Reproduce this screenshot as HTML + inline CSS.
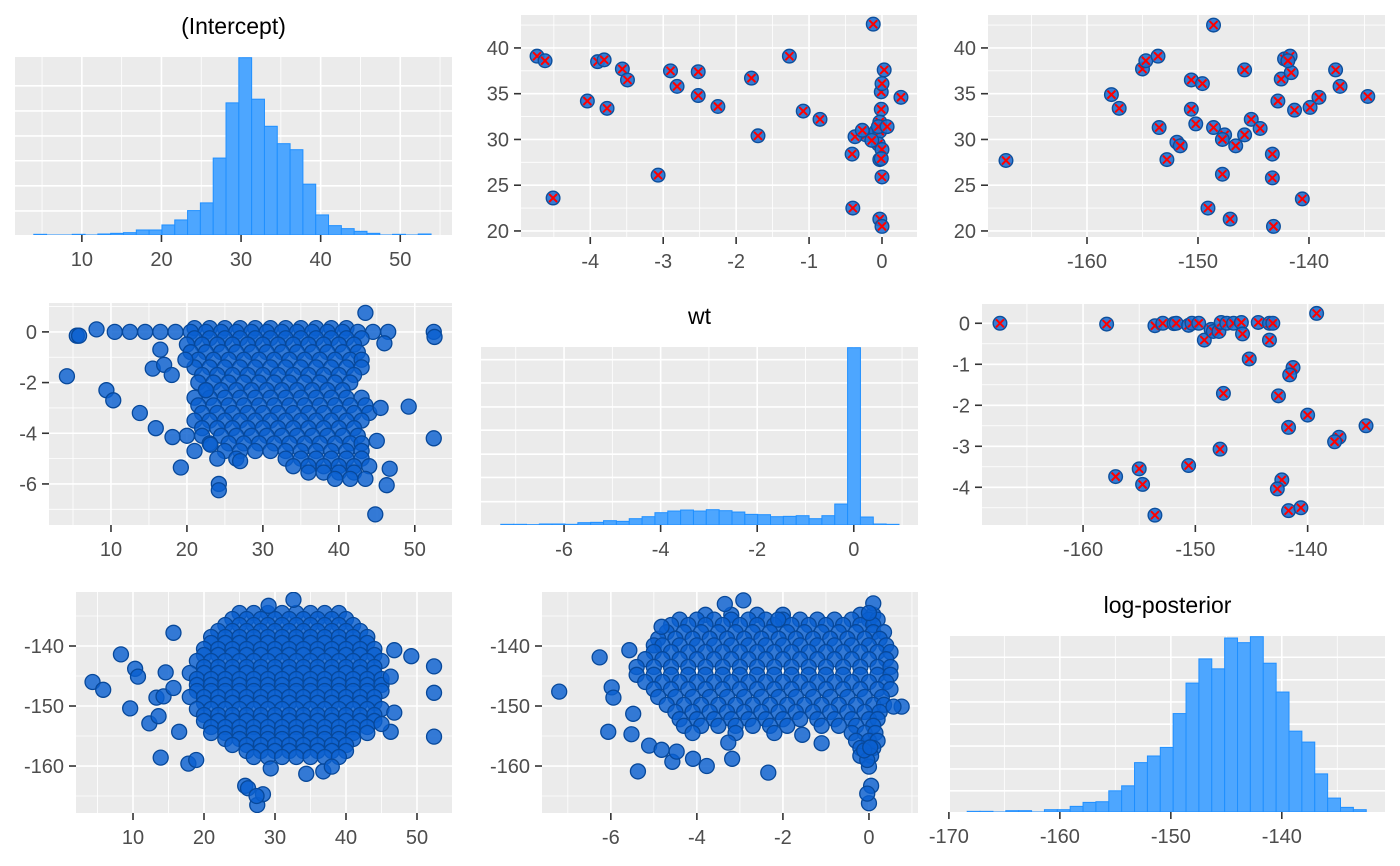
<!DOCTYPE html>
<html><head><meta charset="utf-8"><style>
html,body{margin:0;padding:0;background:#fff;}
svg{display:block;font-family:"Liberation Sans",sans-serif;}
</style></head>
<body>
<svg id="chart" width="1400" height="866" viewBox="0 0 1400 866" xmlns="http://www.w3.org/2000/svg"></svg>
<script>
// ---------- DATA ----------
const interceptCounts = [2,0,0,2,0,3,5,7,15,15,30,45,73,96,230,395,530,406,325,273,255,152,60,28,19,11,5,0,2,0,3];
const interceptBinStart = 3.96, interceptBinWidth = 1.61;
const wtCounts = [2,2,1,3,3,2,7,8,13,11,19,25,37,42,45,42,46,43,39,32,31,25,26,28,19,28,63,533,24,3,2];
const wtBinStart = -7.31, wtBinWidth = 0.266;
const lpCounts = [2,2,0,4,4,0,7,7,17,29,31,64,79,149,169,195,297,389,462,432,525,511,529,449,362,244,211,115,42,14,7];
const lpBinStart = -168.35, lpBinWidth = 1.16;

const interceptXTicks = [10,20,30,40,50];
const wtXTicks = [-6,-4,-2,0];
const wtXTicksTop = [-4,-3,-2,-1,0];
const lpXTicks = [-160,-150,-140];
const lpXTicksHist = [-170,-160,-150,-140];
const interceptYTicks = [20,25,30,35,40];
const wtYTicks = [0,-2,-4,-6];
const wtYTicks6 = [0,-1,-2,-3,-4];
const lpYTicks = [-140,-150,-160];

const p2Draws = [[-4.73,39.1],[-4.62,38.6],[-4.04,34.2],[-3.90,38.5],[-3.81,38.7],[-3.77,33.4],[-3.56,37.7],[-3.49,36.5],[-4.51,23.6],[-3.07,26.1],[-2.90,37.5],[-2.81,35.8],[-2.52,37.4],[-2.52,34.8],[-2.25,33.6],[-1.79,36.7],[-1.70,30.4],[-1.27,39.1],[-1.08,33.1],[-0.85,32.2],[-0.12,42.6],[-0.22,30.5],[-0.37,30.3],[-0.08,30.9],[-0.01,33.3],[-0.01,35.2],[0,36.1],[0.03,37.6],[0.26,34.6],[-0.03,31.9],[-0.03,30.9],[-0.05,29.5],[0,28.9],[-0.03,27.8],[0,25.9],[-0.01,27.9],[-0.03,21.3],[0,20.5],[-0.40,22.5],[-0.41,28.4],[-0.14,29.9],[-0.27,31.0],[-0.05,31.4],[0.07,31.4]];
const p3Draws = [[-167.3,27.7],[-157.8,34.9],[-157.1,33.4],[-155.0,37.7],[-154.7,38.6],[-153.6,39.1],[-153.5,31.3],[-152.8,27.8],[-151.9,29.7],[-151.6,29.3],[-150.6,36.5],[-149.6,36.1],[-150.6,33.3],[-150.2,31.7],[-148.6,42.5],[-149.1,22.5],[-148.6,31.3],[-147.8,26.2],[-147.6,30.5],[-147.8,30.0],[-146.6,29.3],[-147.1,21.3],[-145.8,37.6],[-145.8,30.5],[-145.2,32.2],[-144.4,31.2],[-143.3,28.4],[-143.3,25.8],[-143.2,20.5],[-142.8,34.2],[-142.5,36.6],[-142.2,38.8],[-141.7,39.1],[-141.6,37.3],[-141.9,38.6],[-141.3,33.2],[-140.6,23.5],[-139.9,33.5],[-139.1,34.6],[-137.6,37.6],[-137.2,35.8],[-134.7,34.7]];
const p6Draws = [[-167.4,0],[-157.9,-0.02],[-153.6,-0.06],[-152.9,0],[-151.9,-0.01],[-151.7,0],[-150.6,-0.05],[-150.3,0],[-149.7,0],[-149.2,-0.41],[-148.6,-0.15],[-148.4,-0.20],[-147.9,-0.20],[-147.7,0.02],[-147.2,0],[-146.6,0],[-145.9,0.02],[-145.8,-0.26],[-144.4,0.02],[-143.4,0],[-143.1,0],[-143.4,-0.41],[-145.2,-0.87],[-141.3,-1.08],[-141.6,-1.26],[-147.5,-1.71],[-142.6,-1.77],[-139.2,0.24],[-140.0,-2.24],[-141.7,-2.54],[-134.8,-2.50],[-137.2,-2.78],[-137.6,-2.89],[-147.8,-3.07],[-150.6,-3.47],[-157.1,-3.74],[-155.0,-3.55],[-154.7,-3.93],[-153.6,-4.68],[-142.3,-3.82],[-142.7,-4.04],[-141.7,-4.57],[-140.6,-4.50]];

const p4Outliers = [[4.2,-1.75],[9.4,-2.3],[10.3,-2.7],[13.8,-3.2],[15.9,-3.8],[18.1,-4.15],[19.2,-5.35],[24.2,-6.0],[24.2,-6.25],[44.8,-7.2],[49.2,-2.95],[52.5,-4.2],[52.5,0],[52.6,-0.2],[46.7,-5.4],[46.3,-6.05],[45,-4.3],[43.5,0.75],[8.1,0.1],[5.5,-0.15],[5.8,-0.15],[16.5,-0.7],[19.8,-1.1],[15.5,-1.45],[17,-1.3],[18,-1.7],[22.5,-2.3],[26.5,-5.0],[27,-5.1],[23.1,-4.45],[45.5,-3.0],[46,-0.45]];
const p4Rows = [[0.15,[21,23,25,27,29,31,33,35,37,39,41]],[0,[10.5,12.5,14.5,16.5,18.5,20.5,22.5,24.5,26.5,28.5,30.5,32.5,34.5,36.5,38.5,40.5,42.5,44.5,46.5]],[-0.25,[21,23,25,27,29,31,33,35,37,39,41,43]],[-0.5,[20,22,24,26,28,30,32,34,36,38,40,42]],[-0.8,[20.5,22.5,24.5,26.5,28.5,30.5,32.5,34.5,36.5,38.5,40.5,42.5]],[-1.1,[21.5,23.5,25.5,27.5,29.5,31.5,33.5,35.5,37.5,39.5,41.5,43]],[-1.4,[21,23,25,27,29,31,33,35,37,39,41,43]],[-1.7,[22,24,26,28,30,32,34,36,38,40,42]],[-2.0,[21.5,23.5,25.5,27.5,29.5,31.5,33.5,35.5,37.5,39.5,41.5]],[-2.3,[22.5,24.5,26.5,28.5,30.5,32.5,34.5,36.5,38.5,40.5]],[-2.6,[21,23,25,27,29,31,33,35,37,39,41,43]],[-2.9,[21.5,23.5,25.5,27.5,29.5,31.5,33.5,35.5,37.5,39.5,41.5,43.5]],[-3.2,[22,24,26,28,30,32,34,36,38,40,42,44]],[-3.5,[21,23,25,27,29,31,33,35,37,39,41,43]],[-3.8,[22,24,26,28,30,32,34,36,38,40,42]],[-4.1,[20,22,24.5,26.5,28.5,30.5,32.5,34.5,36.5,38.5,40.5,42.5]],[-4.4,[23,25.5,27.5,29.5,31.5,33.5,35.5,37.5,39.5,41.5,43]],[-4.7,[21,25,27,29,31,33,35,37,39,41,43]],[-5.0,[24,33,35,37,39,41,43]],[-5.3,[34,36,38,40,42,44]],[-5.55,[36,38,40,42]],[-5.8,[39.5,41.5,43.5]]];
const p7Outliers = [[4.3,-146],[5.8,-147.3],[8.3,-141.4],[10.3,-143.8],[10.7,-145.1],[9.6,-150.4],[12.3,-152.9],[13.6,-151.7],[13.3,-148.6],[14.3,-148.4],[13.9,-158.6],[17.8,-159.6],[18.9,-159.0],[15.7,-137.8],[14.6,-144.4],[15.7,-147],[16.5,-154.3],[49.2,-141.7],[52.4,-143.4],[52.4,-147.8],[52.4,-155.1],[46.8,-151.1],[46.3,-154.3],[46.8,-140.7],[46.3,-145.1],[45,-153],[25.8,-163.3],[26.2,-163.7],[27.5,-166.5],[28.3,-164.7],[27.4,-165],[34.4,-161.3],[36.8,-160.9],[38.0,-160.1],[29.4,-160.4],[32.6,-132.3],[29.1,-133.3]];
const p7Rows = [[-134.5,[25,27,29,31,33,35,37,39]],[-135.5,[24,26,28,30,32,34,36,38,40]],[-136.5,[23,25,27,29,31,33,35,37,39,41]],[-137.5,[22,24,26,28,30,32,34,36,38,40,42]],[-138.5,[21,23,25,27,29,31,33,35,37,39,41,43]],[-139.5,[21,23,25,27,29,31,33,35,37,39,41,43]],[-140.5,[20,22,24,26,28,30,32,34,36,38,40,42,44]],[-141.5,[20,22,24,26,28,30,32,34,36,38,40,42,44]],[-142.5,[19,21,23,25,27,29,31,33,35,37,39,41,43,45]],[-143.5,[20,22,24,26,28,30,32,34,36,38,40,42,44]],[-144.5,[18,20,22,24,26,28,30,32,34,36,38,40,42,44]],[-145.5,[19,21,23,25,27,29,31,33,35,37,39,41,43,45]],[-146.5,[19,21,23,25,27,29,31,33,35,37,39,41,43,45]],[-147.5,[19,21,23,25,27,29,31,33,35,37,39,41,43,45]],[-148.5,[18,20,22,24,26,28,30,32,34,36,38,40,42,44]],[-149.5,[20,22,24,26,28,30,32,34,36,38,40,42,44]],[-150.5,[19,21,23,25,27,29,31,33,35,37,39,41,43,45]],[-151.5,[20,22,24,26,28,30,32,34,36,38,40,42,44]],[-152.5,[20,22,24,26,28,30,32,34,36,38,40,42,44]],[-153.5,[21,23,25,27,29,31,33,35,37,39,41,43]],[-154.5,[21,23,25,27,29,31,33,35,37,39,41,43]],[-155.5,[23,25,27,29,31,33,35,37,39,41]],[-156.5,[24,26,28,30,32,34,36,38,40]],[-157.5,[26,28,30,32,34,36,38,40]],[-158.5,[27,29,31,33,35,37,39]]];
const p8Outliers = [[-7.2,-147.6],[-6.26,-141.9],[-5.98,-146.9],[-5.94,-148.6],[-6.06,-154.3],[-5.37,-160.9],[-5.52,-154.7],[-5.48,-151.3],[-5.11,-156.6],[-4.82,-157.3],[-4.57,-159.3],[-4.47,-157.6],[-4.09,-158.8],[-3.77,-160],[-3.18,-158.8],[-3.27,-156.1],[-2.34,-161.1],[-1.55,-154.8],[-1.10,-156.2],[0.76,-150.1],[0.57,-150.1],[-3.35,-133],[-2.92,-132.4],[-2.11,-135.6],[-4.82,-136.8],[-5.57,-140.7],[0,-166.2],[0.05,-163.3],[-0.04,-164.6],[0,-160.1],[-0.04,-159],[-0.11,-157.4],[0.03,-156.9],[0.1,-132.9],[0,-134.5]];
const p8Rows = [[-134.8,[-3.8,-3.2,-2.6,-2.0,-0.2,0.1]],[-135.6,[-4.4,-4.0,-3.6,-3.2,-2.8,-2.4,-2.0,-1.6,-1.2,-0.8,-0.4,0,0.2]],[-136.5,[-4.6,-4.2,-3.8,-3.4,-3.0,-2.6,-2.2,-1.8,-1.4,-1.0,-0.6,-0.2,0.1]],[-137.7,[-4.7,-4.3,-3.9,-3.5,-3.1,-2.7,-2.3,-1.9,-1.5,-1.1,-0.7,-0.3,0.1,0.35]],[-138.8,[-4.9,-4.5,-4.1,-3.7,-3.3,-2.9,-2.5,-2.1,-1.7,-1.3,-0.9,-0.5,-0.1,0.25]],[-139.9,[-5.0,-4.8,-4.4,-4.0,-3.6,-3.2,-2.8,-2.4,-2.0,-1.6,-1.2,-0.8,-0.4,0,0.4]],[-141,[-5.0,-4.6,-4.2,-3.8,-3.4,-3.0,-2.6,-2.2,-1.8,-1.4,-1.0,-0.6,-0.2,0.2,0.5]],[-142.2,[-5.2,-4.8,-4.4,-4.0,-3.6,-3.2,-2.8,-2.4,-2.0,-1.6,-1.2,-0.8,-0.4,0,0.4]],[-143.5,[-5.4,-5.0,-4.6,-4.2,-3.8,-3.4,-3.0,-2.6,-2.2,-1.8,-1.4,-1.0,-0.6,-0.2,0.2,0.5]],[-144.8,[-5.4,-5.0,-4.6,-4.2,-3.8,-3.4,-3.0,-2.6,-2.2,-1.8,-1.4,-1.0,-0.6,-0.2,0.2,0.5]],[-146,[-5.2,-4.8,-4.4,-4.0,-3.6,-3.2,-2.8,-2.4,-2.0,-1.6,-1.2,-0.8,-0.4,0,0.4]],[-147.2,[-5.0,-4.6,-4.2,-3.8,-3.4,-3.0,-2.6,-2.2,-1.8,-1.4,-1.0,-0.6,-0.2,0.2,0.5]],[-148.5,[-4.9,-4.5,-4.1,-3.7,-3.3,-2.9,-2.5,-2.1,-1.7,-1.3,-0.9,-0.5,-0.1,0.3]],[-149.8,[-4.7,-4.3,-3.9,-3.5,-3.1,-2.7,-2.3,-1.9,-1.5,-1.1,-0.7,-0.3,0.1,0.35]],[-151,[-4.5,-4.1,-3.7,-3.3,-2.9,-2.5,-2.1,-1.7,-1.3,-0.9,-0.5,-0.1,0.25]],[-152.2,[-4.4,-4.0,-3.6,-3.2,-2.8,-2.4,-2.0,-1.6,-1.2,-0.8,-0.4,0,0.2]],[-153.3,[-4.3,-3.9,-3.5,-3.1,-2.7,-2.3,-1.9,-1.1,-0.7,-0.3,0.1]],[-154.5,[-4.1,-3.1,-2.2,-0.4,-0.1,0.15]],[-155.8,[-0.3,0,0.2]],[-157,[-0.2,0.1]],[-158.3,[-0.2,0.05]]];

// ---------- RENDERING ----------
const NS = "http://www.w3.org/2000/svg";
const svg = document.getElementById("chart");
function mk(tag, attrs, parent){
  const e = document.createElementNS(NS, tag);
  for (const k in attrs) e.setAttribute(k, attrs[k]);
  (parent || svg).appendChild(e);
  return e;
}
function lin(d0,d1,r0,r1){ return v => r0 + (v-d0)/(d1-d0)*(r1-r0); }
let clipId = 0;

function panel(o){
  const g = mk("g", {});
  
  
  const sx = lin(o.xd[0], o.xd[1], o.x0, o.x1);
  const sy = lin(o.yd[0], o.yd[1], o.y1, o.y0);
  const bg = mk("rect", {x:o.x0, y:o.y0, width:o.x1-o.x0, height:o.y1-o.y0, fill:"#ebebeb"}, g);
  
  
  (o.xMinor||[]).forEach(v => { const x = sx(v); if (x>o.x0 && x<o.x1) mk("line",{x1:x,x2:x,y1:o.y0,y2:o.y1,stroke:"#fff","stroke-width":0.8},g); });
  (o.yMinor||[]).forEach(v => { const y = sy(v); if (y>o.y0 && y<o.y1) mk("line",{x1:o.x0,x2:o.x1,y1:y,y2:y,stroke:"#fff","stroke-width":0.8},g); });
  o.xTicks.forEach(v => { const x = sx(v); mk("line",{x1:x,x2:x,y1:o.y0,y2:o.y1,stroke:"#fff","stroke-width":1.6},g); });
  (o.yGrid||o.yTicks||[]).forEach(v => { const y = sy(v); if (y>=o.y0 && y<=o.y1) mk("line",{x1:o.x0,x2:o.x1,y1:y,y2:y,stroke:"#fff","stroke-width":1.6},g); });
  o.xTicks.forEach(v => {
    const x = sx(v);
    mk("line",{x1:x,x2:x,y1:o.y1,y2:o.y1+7,stroke:"#333","stroke-width":1.6},g);
    const t = mk("text",{x:x,y:o.y1+31,"text-anchor":"middle","font-size":20,fill:"#4d4d4d"},g);
    t.textContent = String(v);
    
    
  });
  if (o.yTicks) o.yTicks.forEach(v => {
    const y = sy(v);
    mk("line",{x1:o.x0-7,x2:o.x0,y1:y,y2:y,stroke:"#333","stroke-width":1.6},g);
    const t = mk("text",{x:o.x0-12,y:y+7,"text-anchor":"end","font-size":20,fill:"#4d4d4d"},g);
    t.textContent = String(v);
    
    
  });
  if (o.title){
    const t = mk("text",{x:(o.x0+o.x1)/2,y:o.y0-23,"text-anchor":"middle","font-size":23,fill:"#000"},g);
    t.textContent = o.title;
    
    
  }
  const cid = "clip" + (clipId++);
  const cp = mk("clipPath",{id:cid},g);
  mk("rect",{x:o.x0,y:o.y0,width:o.x1-o.x0,height:o.y1-o.y0},cp);
  const marks = mk("g",{"clip-path":"url(#"+cid+")"},g);
  return {g, marks, sx, sy};
}

function hist(o, counts, start, width, gridCounts){
  const ymax = Math.max(...counts) * 1.004;
  o.yd = [0, ymax];
  o.yGrid = gridCounts;
  const p = panel(o);
  counts.forEach((c,i) => {
    const xa = p.sx(start + i*width), xb = p.sx(start + (i+1)*width);
    const ya = p.sy(c);
    const r = mk("rect",{x:xa,y:ya,width:xb-xa,height:Math.max(p.sy(0)-ya,1.2),fill:"#4da6ff",stroke:"#1f8fff","stroke-width":1},p.marks);
    
    
  });
}

function cloudPoint(p, x, y, r){
  const c = mk("circle",{cx:p.sx(x),cy:p.sy(y),r:r,fill:"#0a5fcf","fill-opacity":0.82,stroke:"#07489a","stroke-width":1.3},p.marks);
  
  
}
function cloud(o, rows, outliers){
  const p = panel(o);
  rows.forEach(row => row[1].forEach(x => cloudPoint(p, x, row[0], 7.5)));
  outliers.forEach(d => cloudPoint(p, d[0], d[1], 7.5));
}
function xpoints(o, draws){
  const p = panel(o);
  draws.forEach(d => {
    const cx = p.sx(d[0]), cy = p.sy(d[1]);
    const c = mk("circle",{cx:cx,cy:cy,r:6.8,fill:"#2170d2","fill-opacity":0.9,stroke:"#0d4f9c","stroke-width":1.4},p.marks);
    
    
    const m = mk("path",{d:`M${cx-4},${cy-4}L${cx+4},${cy+4}M${cx-4},${cy+4}L${cx+4},${cy-4}`,stroke:"#ff0000","stroke-width":2},p.marks);
    
    
  });
}

hist({name:"intercept-histogram",title:"(Intercept)",x0:15,y0:57,x1:452,y1:235,xd:[1.6,56.5],xTicks:interceptXTicks,xMinor:[5,15,25,35,45,55]}, interceptCounts, interceptBinStart, interceptBinWidth, [72,147,222,296,371,446]);
xpoints({name:"wt-vs-intercept-scatter",x0:521,y0:15,x1:917,y1:237,xd:[-4.95,0.48],yd:[19.34,43.6],xTicks:wtXTicksTop,xMinor:[-4.5,-3.5,-2.5,-1.5,-0.5,0.5],yTicks:interceptYTicks,yMinor:[22.5,27.5,32.5,37.5,42.5]}, p2Draws);
xpoints({name:"logpost-vs-intercept-scatter",x0:988,y0:15,x1:1385,y1:237,xd:[-168.92,-133.15],yd:[19.34,43.6],xTicks:lpXTicks,xMinor:[-165,-155,-145,-135],yTicks:interceptYTicks,yMinor:[22.5,27.5,32.5,37.5,42.5]}, p3Draws);
cloud({name:"intercept-vs-wt-scatter",x0:49,y0:303,x1:452,y1:525,xd:[1.84,54.9],yd:[-7.62,1.14],xTicks:interceptXTicks,xMinor:[5,15,25,35,45,55],yTicks:wtYTicks,yMinor:[1,-1,-3,-5,-7]}, p4Rows, p4Outliers);
hist({name:"wt-histogram",title:"wt",x0:481,y0:347,x1:918,y1:525,xd:[-7.72,1.33],xTicks:wtXTicks,xMinor:[-7,-5,-3,-1,1]}, wtCounts, wtBinStart, wtBinWidth, [70,143,213,285,355,427,497]);
xpoints({name:"logpost-vs-wt-scatter",x0:982,y0:304,x1:1384,y1:525,xd:[-169.0,-133.2],yd:[-4.92,0.47],xTicks:lpXTicks,xMinor:[-165,-155,-145,-135],yTicks:wtYTicks6,yMinor:[0.5,-0.5,-1.5,-2.5,-3.5,-4.5]}, p6Draws);
cloud({name:"intercept-vs-logpost-scatter",x0:76,y0:592,x1:452,y1:813,xd:[1.97,54.93],yd:[-167.83,-131],xTicks:interceptXTicks,xMinor:[5,15,25,35,45,55],yTicks:lpYTicks,yMinor:[-135,-145,-155,-165]}, p7Rows, p7Outliers);
cloud({name:"wt-vs-logpost-scatter",x0:542,y0:592,x1:918,y1:813,xd:[-7.60,1.14],yd:[-167.83,-131],xTicks:wtXTicks,xMinor:[-7,-5,-3,-1,1],yTicks:lpYTicks,yMinor:[-135,-145,-155,-165]}, p8Rows, p8Outliers);
hist({name:"logpost-histogram",title:"log-posterior",x0:950,y0:636,x1:1385,y1:812,xd:[-169.9,-130.7],xTicks:lpXTicksHist,xMinor:[-165,-155,-145,-135]}, lpCounts, lpBinStart, lpBinWidth, [64,130,199,265,332,399,467]);
</script>
</body></html>
